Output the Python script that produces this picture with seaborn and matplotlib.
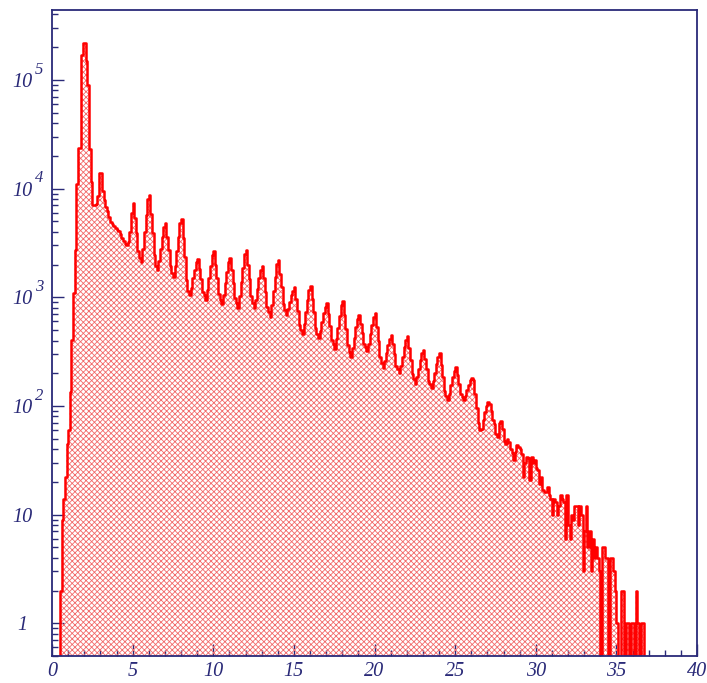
import numpy as np
import pandas as pd
import matplotlib
matplotlib.use("Agg")
import matplotlib.pyplot as plt
import seaborn as sns
from matplotlib.ticker import LogLocator, NullFormatter

# ---------------------------------------------------------------- style
NAVY = "#2a2a78"
LINE_RED = "#ff0000"
HATCH_RED = "#f26a6a"

sns.set_style("white")
plt.rcParams["font.family"] = ["Liberation Serif", "DejaVu Serif"]
plt.rcParams["font.style"] = "italic"
plt.rcParams["hatch.color"] = HATCH_RED
plt.rcParams["hatch.linewidth"] = 0.6

# ---------------------------------------------------------------- data
# Histogram with 0.1 wide bins, one row of ten bins per unit of x.
BIN_WIDTH = 0.1
X_RANGE = (0, 40)

counts_00_10 = [
    0, 0, 0, 0, 0, 2, 9, 14, 22, 45,
    60, 134, 404, 1090, 2700, 11000, 23500, 23500, 170000, 220000,
    220000, 150000, 90000, 23000, 11500, 7000, 7000, 7200, 8500, 14000,
    14000, 9500, 7800, 6800, 6200, 5500, 4900, 4700, 4500, 4300,
    4200, 4100, 3800, 3500, 3300, 3100, 3000, 3200, 4000, 6000,
    7300, 5350, 3920, 2690, 2300, 2100, 2790, 3980, 5680, 8000,
    8700, 5840, 3920, 2440, 1950, 1770, 2160, 2770, 3560, 4400,
    4800, 3600, 2710, 1930, 1680, 1530, 1950, 2650, 3600, 4800,
    5200, 3480, 2340, 1450, 1150, 1050, 1220, 1490, 1800, 2100,
    2270, 1830, 1470, 1130, 1040, 950, 1170, 1510, 1950, 2450,
]
counts_10_20 = [
    2650, 2000, 1510, 1080, 950, 860, 1050, 1340, 1710, 2120,
    2300, 1770, 1360, 990, 880, 800, 1020, 1380, 1870, 2480,
    2700, 1990, 1470, 1020, 880, 800, 950, 1200, 1490, 1800,
    1950, 1490, 1130, 820, 730, 660, 840, 1140, 1530, 2020,
    2200, 1650, 1230, 870, 760, 690, 780, 900, 1040, 1140,
    1240, 970, 755, 560, 505, 460, 565, 725, 935, 1170,
    1270, 965, 730, 525, 460, 420, 490, 590, 710, 820,
    890, 700, 545, 405, 370, 335, 410, 525, 675, 840,
    915, 685, 510, 360, 315, 285, 340, 425, 530, 635,
    690, 570, 470, 375, 345, 320, 375, 460, 560, 660,
]
counts_20_30 = [
    715, 535, 400, 284, 248, 225, 258, 308, 365, 415,
    450, 368, 300, 235, 220, 200, 234, 285, 348, 405,
    440, 342, 265, 196, 176, 160, 185, 221, 265, 305,
    330, 269, 219, 171, 158, 145, 168, 203, 244, 280,
    305, 238, 186, 138, 124, 113, 130, 155, 184, 210,
    227, 191, 160, 130, 122, 113, 124, 139, 156, 172,
    180, 175, 130, 95, 70, 60, 62, 75, 88, 100,
    108, 104, 90, 75, 68, 55, 52, 70, 72, 62,
    48, 45, 50, 47, 40, 37, 32, 38, 44, 42,
    40, 36, 22, 30, 34, 33, 21, 34, 30, 32,
]
counts_30_40 = [
    27, 26, 19, 22, 17, 16, 16, 18, 15, 14,
    10, 14, 13, 10, 12, 15, 14, 13, 6, 15,
    8, 6, 10, 9, 12, 12, 8, 12, 10, 3,
    7, 12, 5, 7, 3, 6, 4, 5, 4, 3,
    0, 5, 5, 4, 4, 0, 4, 4, 3, 2,
    1, 0, 0, 2, 2, 0, 1, 1, 0, 1,
    1, 0, 2, 1, 0, 1, 1, 0, 0, 0,
    0, 0, 0, 0, 0, 0, 0, 0, 0, 0,
    0, 0, 0, 0, 0, 0, 0, 0, 0, 0,
    0, 0, 0, 0, 0, 0, 0, 0, 0, 0,
]

x_major_ticks = [0, 5, 10, 15, 20, 25, 30, 35, 40]
x_tick_labels = ["0", "5", "10", "15", "20", "25", "30", "35", "40"]
y_major_ticks = [1, 10, 1e2, 1e3, 1e4, 1e5]
y_tick_labels = ["1", "10", "10", "10", "10", "10"]
y_exponents = ["", "", "2", "3", "4", "5"]
Y_RANGE = (0.5, 4.4e5)

counts = np.array(counts_00_10 + counts_10_20 + counts_20_30 + counts_30_40, dtype=float)
n_bins = len(counts)
edges = np.round(X_RANGE[0] + BIN_WIDTH * np.arange(n_bins + 1), 3)
centers = 0.5 * (edges[:-1] + edges[1:])
bin_edges = [float(e) for e in edges]
hist_df = pd.DataFrame({"x": centers, "entries": counts})

# ---------------------------------------------------------------- figure
fig = plt.figure(figsize=(7.07, 6.83), dpi=100)
ax = fig.add_axes([52 / 707, 1 - 656 / 683, (697 - 52) / 707, (656 - 10) / 683])

# hatched body of the histogram
sns.histplot(data=hist_df, x="x", weights="entries", bins=bin_edges,
             element="step", fill=True, color=HATCH_RED, ax=ax)
body = ax.collections[-1]
body.set_facecolor("none")
body.set_edgecolor(HATCH_RED)
body.set_hatch("xxxxxx")
body.set_linewidth(0)

# red step outline on top
sns.histplot(data=hist_df, x="x", weights="entries", bins=bin_edges,
             element="step", fill=False, color=LINE_RED, linewidth=1.8, ax=ax)

ax.set_yscale("log")
ax.set_xlim(*X_RANGE)
ax.set_ylim(*Y_RANGE)
ax.set_xlabel("")
ax.set_ylabel("")
ax.grid(False)

# ticks and labels
ax.set_xticks(x_major_ticks)
ax.set_xticklabels(x_tick_labels)
ax.set_xticks(range(X_RANGE[0], X_RANGE[1] + 1), minor=True)
ax.set_yticks(y_major_ticks)
ax.set_yticklabels(y_tick_labels)
ax.yaxis.set_minor_locator(LogLocator(base=10, subs=np.arange(2, 10)))
ax.yaxis.set_minor_formatter(NullFormatter())

ax.tick_params(which="both", direction="in", top=False, right=False,
               left=True, bottom=True, color=NAVY, labelcolor=NAVY,
               labelsize=14.5)
ax.tick_params(which="major", length=8.6, width=1.0)
ax.tick_params(which="minor", length=4.3, width=1.0)
ax.tick_params(axis="x", which="major", pad=4)
ax.tick_params(axis="y", which="major", pad=21)
for lab in ax.get_yticklabels():
    lab.set_horizontalalignment("center")

# raised decade exponents next to the "10" labels
for value, exponent in zip(y_major_ticks, y_exponents):
    if exponent:
        ax.annotate(exponent, xy=(0, value), xycoords=("axes fraction", "data"),
                    xytext=(-12.5, 7.5), textcoords="offset points",
                    ha="left", va="center", fontsize=12, color=NAVY,
                    fontstyle="italic", annotation_clip=False)

for side in ["left", "right", "top", "bottom"]:
    ax.spines[side].set_visible(True)
    ax.spines[side].set_color(NAVY)
    ax.spines[side].set_linewidth(1.3)

fig.savefig("out.png", dpi=100, facecolor="white")
